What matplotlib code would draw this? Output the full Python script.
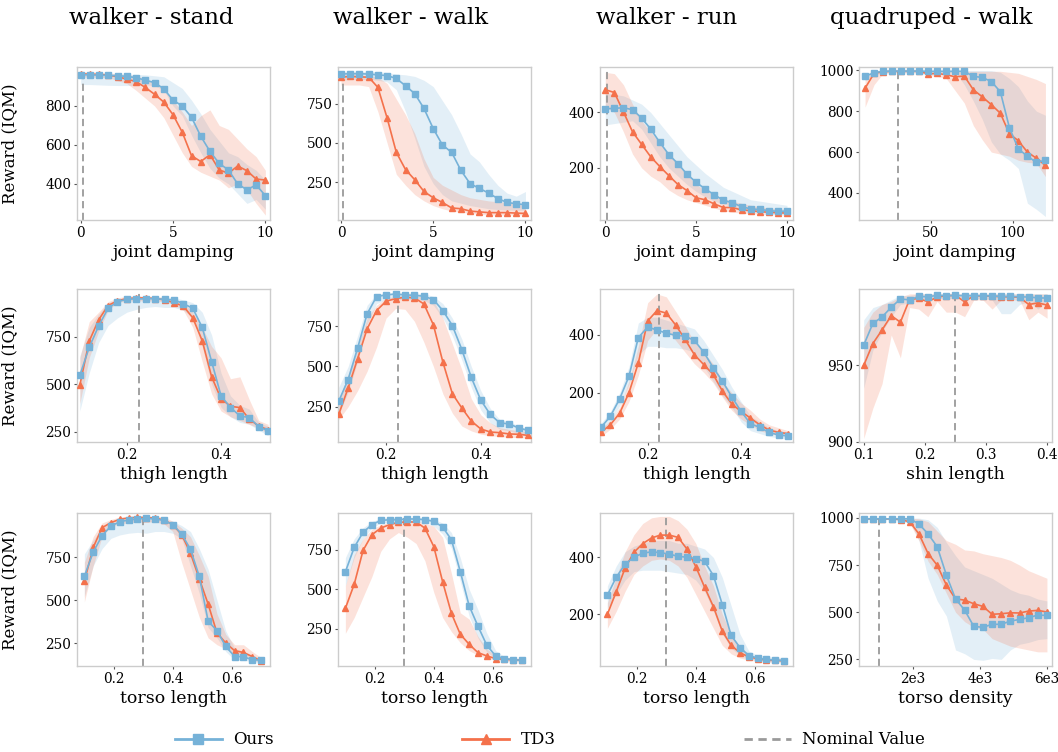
import numpy as np
import matplotlib
matplotlib.use("Agg")
import matplotlib.pyplot as plt
from matplotlib.lines import Line2D

plt.rcParams['font.family'] = ['DejaVu Serif']

# ---------------- data ----------------
col_titles = ["walker - stand", "walker - walk", "walker - run", "quadruped - walk"]
ylabel_text = "Reward (IQM)"
legend_labels = ["Ours", "TD3", "Nominal Value"]

# x grids
x_damp = np.linspace(0, 10, 21)
x_quad_damp = np.linspace(10, 120, 21)
x_thigh = np.linspace(0.1, 0.5, 21)
x_shin = np.linspace(0.1, 0.4, 21)
x_torso = np.linspace(0.1, 0.7, 21)
x_density = np.linspace(540, 6000, 21)

# --- walker stand : joint damping
stand_damp_ours = [960,960,958,957,955,952,945,932,920,888,830,800,742,645,567,505,472,400,370,395,340]
stand_damp_ours_lo = [910,910,908,906,905,905,905,908,905,880,800,750,650,560,480,430,400,350,300,320,270]
stand_damp_ours_hi = [965,965,965,965,965,963,962,960,955,950,920,890,830,760,680,620,560,540,500,470,420]
stand_damp_td3 = [965,963,962,958,950,938,925,895,860,820,755,665,545,515,550,472,455,492,468,425,420]
stand_damp_td3_lo = [950,950,948,945,930,915,880,840,800,740,650,560,490,460,440,420,380,400,370,300,240]
stand_damp_td3_hi = [975,975,973,970,965,960,955,940,920,880,830,770,700,750,780,700,680,630,580,540,470]

# --- walker walk : joint damping
walk_damp_ours = [940,942,942,940,935,930,912,865,815,720,592,487,440,325,240,210,180,145,120,112,105]
walk_damp_ours_lo = [900,905,905,905,900,890,840,700,530,350,240,170,130,115,100,90,80,75,72,70,70]
walk_damp_ours_hi = [955,955,955,955,955,950,940,935,925,900,860,770,680,560,430,380,300,230,180,160,190]
walk_damp_td3 = [920,925,922,920,855,660,440,330,265,190,150,120,85,80,65,60,55,55,55,52,50]
walk_damp_td3_lo = [870,870,870,860,700,500,300,230,170,130,100,80,65,58,50,45,40,40,40,40,40]
walk_damp_td3_hi = [935,935,935,930,920,880,780,680,560,400,280,230,200,170,150,140,130,125,120,110,100]

# --- walker run : joint damping
run_damp_ours = [413,415,417,410,380,340,292,248,215,177,148,124,103,83,74,60,52,50,46,43,44]
run_damp_ours_lo = [355,360,365,370,340,290,240,200,170,140,115,95,80,70,60,50,45,42,40,37,35]
run_damp_ours_hi = [470,465,460,445,430,400,360,320,280,240,210,180,155,130,115,100,85,80,75,70,65]
run_damp_td3 = [482,472,402,330,285,240,205,172,140,118,92,85,70,57,57,48,46,42,40,38,37]
run_damp_td3_lo = [420,400,330,250,200,170,150,120,100,85,75,65,55,45,40,37,35,33,32,30,30]
run_damp_td3_hi = [545,540,500,430,370,330,290,250,210,175,140,120,100,90,80,72,65,60,55,52,50]

# --- quadruped walk : joint damping
quad_damp_ours = [970,988,995,996,996,996,996,995,995,995,995,995,970,965,945,895,720,615,580,550,560]
quad_damp_ours_lo = [950,975,988,990,990,990,990,990,990,990,990,930,850,760,650,590,560,520,350,320,285]
quad_damp_ours_hi = [985,995,998,999,999,999,999,999,999,999,999,999,999,999,998,990,960,920,850,800,780]
quad_damp_td3 = [912,985,993,995,995,995,995,982,985,978,968,972,905,870,832,790,690,655,600,570,535]
quad_damp_td3_lo = [820,930,985,988,988,988,988,975,970,960,900,840,730,660,600,590,580,560,550,545,480]
quad_damp_td3_hi = [960,995,999,999,999,999,999,995,995,995,995,995,995,995,995,995,990,985,970,955,935]

# --- walker stand : thigh length
stand_thigh_ours = [548,695,808,900,935,948,950,950,952,947,945,925,900,800,620,440,378,335,325,278,255]
stand_thigh_ours_lo = [360,560,720,810,850,880,895,905,910,905,905,890,850,700,500,380,330,300,290,260,230]
stand_thigh_ours_hi = [650,800,870,930,945,955,960,960,960,958,955,945,930,880,760,560,440,390,370,300,280]
stand_thigh_td3 = [497,728,840,915,940,952,955,955,952,945,930,912,850,730,540,425,385,378,318,280,262]
stand_thigh_td3_lo = [400,640,780,890,930,940,940,940,940,935,920,890,800,620,450,360,330,310,290,270,240]
stand_thigh_td3_hi = [640,830,880,935,955,965,965,965,962,958,945,935,880,800,700,640,530,540,420,310,290]

# --- walker walk : thigh length
walk_thigh_ours = [283,419,614,826,934,944,950,944,942,936,915,847,754,605,432,291,202,150,143,118,103]
walk_thigh_ours_lo = [200,340,530,760,890,915,915,915,915,910,880,800,690,540,370,230,150,110,100,85,70]
walk_thigh_ours_hi = [370,500,690,880,950,955,958,955,955,952,935,890,800,670,500,350,240,170,160,130,110]
walk_thigh_td3 = [202,366,548,733,847,905,921,930,926,888,758,527,331,242,161,112,93,89,81,79,72]
walk_thigh_td3_lo = [170,250,350,470,620,800,860,855,780,650,500,330,210,130,100,80,70,65,60,58,55]
walk_thigh_td3_hi = [290,450,620,800,880,925,935,940,940,930,910,800,640,480,300,200,150,120,110,100,95]

# --- walker run : thigh length
run_thigh_ours = [81,119,179,257,390,426,416,405,398,395,380,340,287,240,186,136,94,81,64,55,52]
run_thigh_ours_lo = [65,100,155,230,330,360,360,355,355,350,340,290,240,190,150,100,70,60,50,45,40]
run_thigh_ours_hi = [95,135,200,290,440,460,460,450,440,430,420,380,330,280,220,170,120,100,80,70,65]
run_thigh_td3 = [64,90,130,200,303,447,483,474,433,384,331,297,264,206,162,136,113,90,72,64,60]
run_thigh_td3_lo = [50,75,110,170,260,380,420,420,380,340,300,270,235,185,140,110,90,70,60,55,50]
run_thigh_td3_hi = [75,105,150,240,360,510,540,530,480,430,375,340,300,240,200,165,140,110,90,80,70]

# --- quadruped walk : shin length
quad_shin_ours = [963.3,977.6,981.8,988.2,993.6,993.1,995.3,995.1,996,995.8,996,995.8,995.8,995.8,995.6,995.3,995.3,995.1,994.9,994.4,994.2]
quad_shin_ours_lo = [935,960,972,982,990,991,993,993,994,994,994,994,994,994,993,984,984,990,992,987,992]
quad_shin_ours_hi = [980,988,990,993,996,996,997,997,997,997,997,997,997,997,997,997,997,997,997,997,997]
quad_shin_td3 = [950,964.4,973.3,982.7,978.4,993.3,994,991.8,994.9,995.8,996,991.8,995.8,995.6,995.5,995.1,995,994.8,990,991.1,989.6]
quad_shin_td3_lo = [902,922,938,970,955,988,987,982,992,985,985,982,993,993,987,993,993,993,980,985,981]
quad_shin_td3_hi = [975,985,990,992,995,997,997,997,997,997,997,997,997,997,997,997,997,997,997,997,997]

# --- walker stand : torso length
stand_torso_ours = [639,780,876,932,957,967,973,977,973,965,940,886,797,639,378,322,230,171,171,151,151]
stand_torso_ours_lo = [520,700,800,860,880,890,895,890,900,900,890,860,700,540,340,280,200,150,150,140,140]
stand_torso_ours_hi = [770,850,920,950,960,970,975,975,975,970,960,935,900,800,680,500,320,220,200,170,165]
stand_torso_td3 = [610,807,922,952,971,979,983,981,979,967,940,882,774,625,477,309,250,205,195,171,145]
stand_torso_td3_lo = [490,700,870,930,945,950,955,955,955,945,900,720,560,400,280,240,215,190,180,155,130]
stand_torso_td3_hi = [720,870,950,970,985,990,990,990,990,985,960,920,870,760,640,420,300,240,240,200,165]

# --- walker walk : torso length
walk_torso_ours = [610,765,861,910,937,941,941,946,946,941,931,895,814,612,395,265,144,76,59,52,48]
walk_torso_ours_lo = [520,700,820,890,920,925,925,925,925,925,900,850,760,550,330,190,100,60,50,45,40]
walk_torso_ours_hi = [700,820,890,930,950,955,955,955,955,955,945,920,860,700,500,370,220,110,70,62,60]
walk_torso_td3 = [378,531,746,846,888,910,924,927,927,888,771,548,346,214,150,97,76,59,54,52,48]
walk_torso_td3_lo = [220,320,450,580,740,820,860,830,790,680,480,320,230,160,110,80,60,50,42,40,40]
walk_torso_td3_hi = [520,720,820,880,910,925,935,935,935,920,900,830,600,350,310,200,120,80,65,62,60]

# --- walker run : torso length
run_torso_ours = [267,330,376,401,415,420,417,412,404,401,396,386,336,234,125,82,54,45,40,38,36]
run_torso_ours_lo = [220,270,320,350,355,355,355,350,345,340,320,280,210,130,80,55,42,38,35,33,32]
run_torso_ours_hi = [300,370,420,440,450,460,460,460,450,450,440,430,400,330,230,130,70,55,50,48,47]
run_torso_td3 = [199,279,362,418,449,469,479,479,471,430,368,295,226,140,90,64,49,43,37,37,35]
run_torso_td3_lo = [150,210,280,340,370,390,395,390,370,330,270,210,150,90,60,45,38,33,30,30,30]
run_torso_td3_hi = [240,330,420,480,520,540,545,545,530,500,450,370,300,200,130,85,60,48,45,44,43]

# --- quadruped walk : torso density
quad_dens_ours = [995,995,995,995,995,995,968,915,847,697,571,511,425,420,436,436,453,462,471,485,483]
quad_dens_ours_lo = [990,990,990,990,990,985,880,680,560,480,300,280,250,245,255,250,300,330,340,355,360]
quad_dens_ours_hi = [999,999,999,999,999,999,999,990,950,870,800,740,720,700,680,650,620,600,590,570,560]
quad_dens_td3 = [995,995,995,995,991,979,915,811,749,644,571,564,545,531,489,492,497,496,506,510,501]
quad_dens_td3_lo = [992,992,992,992,985,970,880,770,700,600,500,450,420,410,360,340,320,310,300,290,290]
quad_dens_td3_hi = [999,999,999,999,999,999,995,980,930,880,860,830,825,810,800,790,775,750,720,700,680]

# nominal values
nominal_damp = 0.1
nominal_quad_damp = 30
nominal_thigh = 0.225
nominal_shin = 0.25
nominal_torso = 0.3
nominal_density = 1000

# ---------------- panels ----------------
panels = [
    # row 1
    dict(x=x_damp, o=stand_damp_ours, olo=stand_damp_ours_lo, ohi=stand_damp_ours_hi,
         t=stand_damp_td3, tlo=stand_damp_td3_lo, thi=stand_damp_td3_hi, nom=nominal_damp,
         xl="joint damping", xlim=(-0.2, 10.25), ylim=(215, 1000), xt=[0, 5, 10], yt=[400, 600, 800]),
    dict(x=x_damp, o=walk_damp_ours, olo=walk_damp_ours_lo, ohi=walk_damp_ours_hi,
         t=walk_damp_td3, tlo=walk_damp_td3_lo, thi=walk_damp_td3_hi, nom=nominal_damp,
         xl="joint damping", xlim=(-0.16, 10.3), ylim=(8, 985), xt=[0, 5, 10], yt=[250, 500, 750]),
    dict(x=x_damp, o=run_damp_ours, olo=run_damp_ours_lo, ohi=run_damp_ours_hi,
         t=run_damp_td3, tlo=run_damp_td3_lo, thi=run_damp_td3_hi, nom=nominal_damp,
         xl="joint damping", xlim=(-0.29, 10.33), ylim=(12, 564), xt=[0, 5, 10], yt=[200, 400]),
    dict(x=x_quad_damp, o=quad_damp_ours, olo=quad_damp_ours_lo, ohi=quad_damp_ours_hi,
         t=quad_damp_td3, tlo=quad_damp_td3_lo, thi=quad_damp_td3_hi, nom=nominal_quad_damp,
         xl="joint damping", xlim=(6.3, 124), ylim=(268, 1016), xt=[50, 100], yt=[400, 600, 800, 1000]),
    # row 2
    dict(x=x_thigh, o=stand_thigh_ours, olo=stand_thigh_ours_lo, ohi=stand_thigh_ours_hi,
         t=stand_thigh_td3, tlo=stand_thigh_td3_lo, thi=stand_thigh_td3_hi, nom=nominal_thigh,
         xl="thigh length", xlim=(0.094, 0.504), ylim=(197, 1002), xt=[0.2, 0.4], yt=[250, 500, 750]),
    dict(x=x_thigh, o=walk_thigh_ours, olo=walk_thigh_ours_lo, ohi=walk_thigh_ours_hi,
         t=walk_thigh_td3, tlo=walk_thigh_td3_lo, thi=walk_thigh_td3_hi, nom=nominal_thigh,
         xl="thigh length", xlim=(0.0986, 0.506), ylim=(31, 981), xt=[0.2, 0.4], yt=[250, 500, 750]),
    dict(x=x_thigh, o=run_thigh_ours, olo=run_thigh_ours_lo, ohi=run_thigh_ours_hi,
         t=run_thigh_td3, tlo=run_thigh_td3_lo, thi=run_thigh_td3_hi, nom=nominal_thigh,
         xl="thigh length", xlim=(0.098, 0.511), ylim=(31, 557), xt=[0.2, 0.4], yt=[200, 400]),
    dict(x=x_shin, o=quad_shin_ours, olo=quad_shin_ours_lo, ohi=quad_shin_ours_hi,
         t=quad_shin_td3, tlo=quad_shin_td3_lo, thi=quad_shin_td3_hi, nom=nominal_shin,
         xl="shin length", xlim=(0.0923, 0.408), ylim=(899.7, 1000.2), xt=[0.1, 0.2, 0.3, 0.4], yt=[900, 950]),
    # row 3
    dict(x=x_torso, o=stand_torso_ours, olo=stand_torso_ours_lo, ohi=stand_torso_ours_hi,
         t=stand_torso_td3, tlo=stand_torso_td3_lo, thi=stand_torso_td3_hi, nom=nominal_torso,
         xl="torso length", xlim=(0.075, 0.73), ylim=(116, 1008), xt=[0.2, 0.4, 0.6], yt=[250, 500, 750]),
    dict(x=x_torso, o=walk_torso_ours, olo=walk_torso_ours_lo, ohi=walk_torso_ours_hi,
         t=walk_torso_td3, tlo=walk_torso_td3_lo, thi=walk_torso_td3_hi, nom=nominal_torso,
         xl="torso length", xlim=(0.075, 0.73), ylim=(12, 984), xt=[0.2, 0.4, 0.6], yt=[250, 500, 750]),
    dict(x=x_torso, o=run_torso_ours, olo=run_torso_ours_lo, ohi=run_torso_ours_hi,
         t=run_torso_td3, tlo=run_torso_td3_lo, thi=run_torso_td3_hi, nom=nominal_torso,
         xl="torso length", xlim=(0.075, 0.73), ylim=(17, 557), xt=[0.2, 0.4, 0.6], yt=[200, 400]),
    dict(x=x_density, o=quad_dens_ours, olo=quad_dens_ours_lo, ohi=quad_dens_ours_hi,
         t=quad_dens_td3, tlo=quad_dens_td3_lo, thi=quad_dens_td3_hi, nom=nominal_density,
         xl="torso density", xlim=(388, 6151), ylim=(215, 1026), xt=[2000, 4000, 6000],
         xtl=["2e3", "4e3", "6e3"], yt=[250, 500, 750, 1000]),
]

# ---------------- style ----------------
C_OURS = "#76b2d8"
C_TD3 = "#f4714b"
C_NOM = "#9a9a9a"
W, H = 1058, 752
col_left = [77, 338, 600, 859]
row_top = [67, 289, 513]
ax_w, ax_h = 193, 153

fig = plt.figure(figsize=(W / 100, H / 100), dpi=100)

for i, p in enumerate(panels):
    r, c = divmod(i, 4)
    ax = fig.add_axes([col_left[c] / W, 1 - (row_top[r] + ax_h) / H, ax_w / W, ax_h / H])
    x = p["x"]
    ax.fill_between(x, p["olo"], p["ohi"], color=C_OURS, alpha=0.2, linewidth=0)
    ax.fill_between(x, p["tlo"], p["thi"], color=C_TD3, alpha=0.2, linewidth=0)
    ax.axvline(p["nom"], color=C_NOM, linestyle=(0, (4, 2.5)), linewidth=1.3, zorder=1)
    ax.plot(x, p["t"], color=C_TD3, marker="^", markersize=4, linewidth=1.2, zorder=3)
    ax.plot(x, p["o"], color=C_OURS, marker="s", markersize=4.2, linewidth=1.2, zorder=4)
    ax.set_xlim(*p["xlim"])
    ax.set_ylim(*p["ylim"])
    ax.set_xticks(p["xt"])
    if "xtl" in p:
        ax.set_xticklabels(p["xtl"])
    ax.set_yticks(p["yt"])
    ax.tick_params(labelsize=9.8, length=2.5, width=0.8, color="#555555", pad=1.5)
    for s in ax.spines.values():
        s.set_color("#cccccc")
        s.set_linewidth(1.0)
    ax.set_xlabel(p["xl"], fontsize=12.5, labelpad=3)
    if c == 0:
        ax.set_ylabel(ylabel_text, fontsize=12)
        ax.yaxis.set_label_coords((18 - col_left[0]) / ax_w, 0.5)

# column titles
title_x = [151, 411, 667, 931]
for tx, t in zip(title_x, col_titles):
    fig.text(tx / W, 1 - 18 / H, t, fontsize=16.5, ha="center", va="center")

# legend
handles = [
    Line2D([], [], color=C_OURS, marker="s", markersize=7, linewidth=2),
    Line2D([], [], color=C_TD3, marker="^", markersize=7, linewidth=2),
    Line2D([], [], color=C_NOM, linestyle=(0, (3, 2)), linewidth=2),
]
fig.legend(handles, legend_labels, loc="center", bbox_to_anchor=(550 / W, 1 - 740 / H),
           ncol=3, frameon=False, fontsize=12, handlelength=2.8, columnspacing=11.3,
           handletextpad=0.7)

fig.savefig("out.png", dpi=100)
